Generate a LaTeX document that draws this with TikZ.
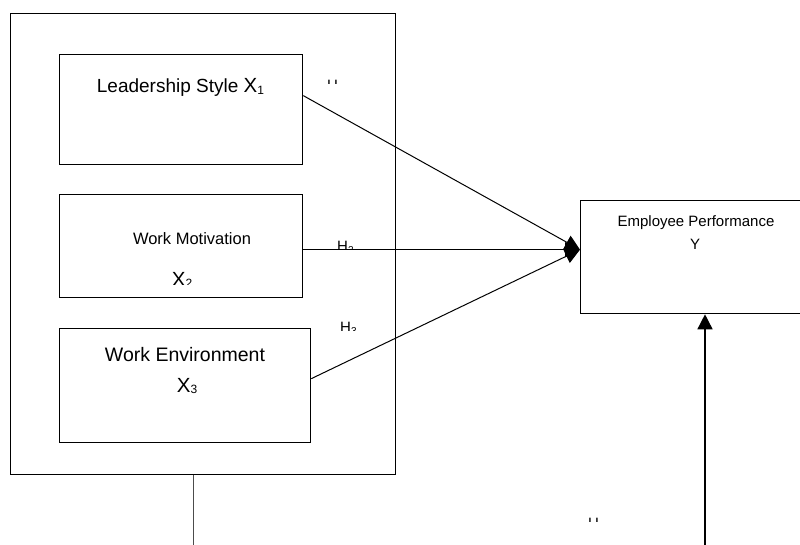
\documentclass[tikz,border=0pt]{standalone}
\usepackage{fontspec}
\setmainfont{Liberation Sans}
\usetikzlibrary{arrows.meta, positioning}

\newcommand{\fs}[1]{\fontsize{#1}{#1}\selectfont}
\newcommand{\varX}[1]{{\fs{20.5}X\raisebox{-1.5pt}{\fs{12}#1}}}
\newcommand{\hyp}[1]{H\raisebox{-2pt}{\fs{10}#1}}

\begin{document}
\begin{tikzpicture}[x=1pt, y=-1pt,
    box/.style={draw, line width=1.3pt, anchor=north west, inner sep=0pt},
    lbl/.style={anchor=base, inner sep=0pt},
    hyplbl/.style={anchor=base west, inner sep=0pt, font=\fs{15}},
    link/.style={line width=1pt, -{Triangle[length=15pt, width=15pt]}}]

\useasboundingbox (0,0) rectangle (800,545);
\clip (0,0) rectangle (800,545);

% independent variables
\node[box, minimum width=385pt, minimum height=461pt] (vars) at (10,13) {};
\node[box, minimum width=243pt, minimum height=110pt] (lead) at (59,54) {};
\node[box, minimum width=243pt, minimum height=103pt] (motiv) at (59,194) {};
\node[box, minimum width=251pt, minimum height=114pt] (env) at (59,328) {};

\node[lbl, font=\fs{19}] (leadtxt) at (180.5,93) {Leadership Style \varX{1}};
\node[lbl, font=\fs{16.5}] (motivtxt) at (192,245) {Work Motivation};
\begin{scope}
  \clip (100,255) rectangle (260,284.5);
  \node[lbl] (motivx) at (182,286.5) {\varX{2}};
\end{scope}
\node[lbl, font=\fs{19.5}] (envtxt) at (185,361) {Work Environment};
\node[lbl] (envx) at (187,392) {\varX{3}};

% dependent variable
\node[box, minimum width=232pt, minimum height=113pt] (perf) at (580,200) {};
\node[lbl, font=\fs{15}] (perftxt) at (696,227) {Employee Performance};
\node[lbl, font=\fs{15}] (perfy) at (695,250) {Y};

% hypotheses
\draw[link] ([yshift=14pt]lead.east) -- ([yshift=7.5pt]perf.west);
\draw[link] ([yshift=-3.5pt]motiv.east) -- ([yshift=7.5pt]perf.west);
\draw[link] ([yshift=7pt]env.east) -- ([yshift=7.5pt]perf.west);

\coordinate (varsout) at (193,548);
\coordinate (perfin) at (705,548);
\draw[line width=1pt, black!70] (varsout |- vars.south) -- (varsout);
\draw[link, line width=1.5pt] (perfin) -- (perfin |- perf.south);

\begin{scope}
  \clip (300,70) rectangle (400,84);
  \node[hyplbl] (h1) at (327,90.7) {\hyp{1}};
\end{scope}
\begin{scope}
  \clip (300,235) rectangle (400,248.5);
  \node[hyplbl] (h2) at (337,251.5) {\hyp{2}};
\end{scope}
\begin{scope}
  \clip (300,315) rectangle (400,330);
  \node[hyplbl] (h3) at (340,332.7) {\hyp{3}};
\end{scope}
\begin{scope}
  \clip (560,510) rectangle (640,521);
  \node[hyplbl] (h4) at (588,528.5) {\hyp{4}};
\end{scope}
\end{tikzpicture}
\end{document}
